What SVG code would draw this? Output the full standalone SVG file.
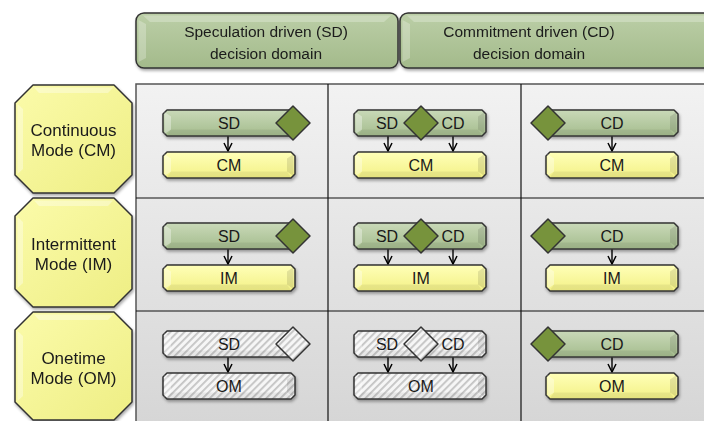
<svg xmlns="http://www.w3.org/2000/svg" xmlns:xlink="http://www.w3.org/1999/xlink" width="704" height="421" viewBox="0 0 704 421">
<style>
text{font-family:"Liberation Sans",Arial,sans-serif;fill:#1a1a1a;text-anchor:middle}
.hdr{font-size:15.5px}
.oct{font-size:17px}
.lbl{font-size:16px}
.edge{stroke:#333;stroke-width:1.5;stroke-linejoin:round}
.grid{stroke:#111;stroke-width:1.2;fill:none}
.conn line{stroke:#000;stroke-width:1.4;marker-end:url(#arr)}
</style>
<defs>
<linearGradient id="gGreen" x1="0" y1="0" x2="0" y2="1"><stop offset="0" stop-color="#c9d9b8"/><stop offset="1" stop-color="#a4bc8d"/></linearGradient>
<linearGradient id="gYellow" x1="0" y1="0" x2="0" y2="1"><stop offset="0" stop-color="#ffffb8"/><stop offset="1" stop-color="#f3f186"/></linearGradient>
<linearGradient id="gOct" x1="0" y1="0" x2="1" y2="1"><stop offset="0" stop-color="#fbfbaa"/><stop offset="1" stop-color="#eeee84"/></linearGradient>
<linearGradient id="gHdr" x1="0" y1="0" x2="0" y2="1"><stop offset="0" stop-color="#bccfa7"/><stop offset="1" stop-color="#a3ba8b"/></linearGradient>
<linearGradient id="gTable" x1="0" y1="0" x2="0" y2="1"><stop offset="0" stop-color="#f2f2f2"/><stop offset="1" stop-color="#d5d5d5"/></linearGradient>
<pattern id="hatch" width="5" height="5" patternUnits="userSpaceOnUse" patternTransform="rotate(45)">
<rect width="5" height="5" fill="#f6f6f6"/><rect width="1.8" height="5" fill="#c4c4c4"/>
</pattern>
<filter id="sh" x="-10%" y="-20%" width="120%" height="150%">
<feDropShadow dx="1" dy="2" stdDeviation="1.5" flood-color="#000" flood-opacity="0.35"/>
</filter>
<marker id="arr" viewBox="0 0 10 10" refX="9" refY="5" markerWidth="10" markerHeight="10" markerUnits="userSpaceOnUse" orient="auto">
<path d="M1,1 L9,5 L1,9" fill="none" stroke="#000" stroke-width="1.5"/>
</marker>
<g id="bar">
<path class="edge" d="M4,0 H128 L132,4 V22 L128,26 H4 L0,22 V4 Z"/>
<path d="M1.5,2 L8,6.5 V19.5 L1.5,24 Z" fill="#fff" fill-opacity="0.35"/>
<path d="M130.5,2 L124,6.5 V19.5 L130.5,24 Z" fill="#000" fill-opacity="0.1"/>
<path d="M8,19.5 H124 L128,25 H4 Z" fill="#000" fill-opacity="0.06"/>
</g>
<path id="dia" class="edge" d="M0,-17 L17,0 L0,17 L-17,0 Z"/>
</defs>

<!-- table background -->
<rect x="136" y="84" width="580" height="350" fill="url(#gTable)" stroke="#555" stroke-width="1.5"/>
<g class="grid">
<line x1="328" y1="84" x2="328" y2="421"/>
<line x1="521" y1="84" x2="521" y2="421"/>
<line x1="136" y1="198" x2="704" y2="198"/>
<line x1="136" y1="311" x2="704" y2="311"/>
</g>

<!-- headers -->
<g id="hdr-sd" filter="url(#sh)">
<rect class="edge" x="136" y="13" width="262" height="55" rx="8" fill="url(#gHdr)"/>
<path d="M143,15.5 H391 L384,22 H150 Z" fill="#fff" fill-opacity="0.25"/>
<path d="M138.5,20 L146,24 V58 L138.5,62 Z" fill="#fff" fill-opacity="0.25"/>
<text class="hdr" x="266" y="37">Speculation driven (SD)</text>
<text class="hdr" x="266" y="59">decision domain</text>
</g>
<g id="hdr-cd" filter="url(#sh)">
<rect class="edge" x="400" y="13" width="330" height="55" rx="8" fill="url(#gHdr)"/>
<path d="M407,15.5 H720 L713,22 H414 Z" fill="#fff" fill-opacity="0.25"/>
<path d="M402.5,20 L410,24 V58 L402.5,62 Z" fill="#fff" fill-opacity="0.25"/>
<text class="hdr" x="529" y="37">Commitment driven (CD)</text>
<text class="hdr" x="529" y="59">decision domain</text>
</g>

<!-- row headers -->
<g id="mode-cm" filter="url(#sh)">
<path class="edge" fill="url(#gOct)" d="M33,85 H114 L132,103 V175 L114,193 H33 L15,175 V103 Z"/>
<path d="M34,87.5 H113 L108,93 H39 Z M17.5,104 L23,109 V169 L17.5,174 Z" fill="#fff" fill-opacity="0.35"/>
<text class="oct" x="73.5" y="136">Continuous</text>
<text class="oct" x="73.5" y="156">Mode (CM)</text>
</g>
<g id="mode-im" filter="url(#sh)">
<path class="edge" fill="url(#gOct)" d="M33,198 H114 L132,216 V289 L114,307 H33 L15,289 V216 Z"/>
<path d="M34,200.5 H113 L108,206 H39 Z M17.5,217 L23,222 V283 L17.5,288 Z" fill="#fff" fill-opacity="0.35"/>
<text class="oct" x="73.5" y="250">Intermittent</text>
<text class="oct" x="73.5" y="270">Mode (IM)</text>
</g>
<g id="mode-om" filter="url(#sh)">
<path class="edge" fill="url(#gOct)" d="M33,312 H114 L132,330 V402 L114,420 H33 L15,402 V330 Z"/>
<path d="M34,314.5 H113 L108,320 H39 Z M17.5,331 L23,336 V396 L17.5,401 Z" fill="#fff" fill-opacity="0.35"/>
<text class="oct" x="73.5" y="364">Onetime</text>
<text class="oct" x="73.5" y="384">Mode (OM)</text>
</g>

<!-- connectors -->
<g id="connectors" class="conn">
<line x1="228" y1="136" x2="228" y2="151"/>
<line x1="388" y1="136" x2="388" y2="151"/>
<line x1="453" y1="136" x2="453" y2="151"/>
<line x1="612" y1="136" x2="612" y2="151"/>
<line x1="228" y1="249" x2="228" y2="264"/>
<line x1="388" y1="249" x2="388" y2="264"/>
<line x1="453" y1="249" x2="453" y2="264"/>
<line x1="612" y1="249" x2="612" y2="264"/>
<line x1="228" y1="357" x2="228" y2="372"/>
<line x1="388" y1="357" x2="388" y2="372"/>
<line x1="453" y1="357" x2="453" y2="372"/>
<line x1="612" y1="357" x2="612" y2="372"/>
</g>

<!-- row 1 -->
<g id="r1c1">
<use href="#bar" x="163" y="110" fill="url(#gGreen)" filter="url(#sh)"/>
<use href="#bar" x="163" y="152" fill="url(#gYellow)" filter="url(#sh)"/>
<use href="#dia" x="293" y="123" fill="#77933c"/>
<text class="lbl" x="229" y="129">SD</text>
<text class="lbl" x="229" y="171">CM</text>
</g>
<g id="r1c2">
<use href="#bar" x="354" y="110" fill="url(#gGreen)" filter="url(#sh)"/>
<use href="#bar" x="354" y="152" fill="url(#gYellow)" filter="url(#sh)"/>
<use href="#dia" x="421" y="123" fill="#77933c"/>
<text class="lbl" x="387" y="129">SD</text>
<text class="lbl" x="453" y="129">CD</text>
<text class="lbl" x="421" y="171">CM</text>
</g>
<g id="r1c3">
<use href="#bar" x="546" y="110" fill="url(#gGreen)" filter="url(#sh)"/>
<use href="#bar" x="546" y="152" fill="url(#gYellow)" filter="url(#sh)"/>
<use href="#dia" x="548" y="123" fill="#77933c"/>
<text class="lbl" x="612" y="129">CD</text>
<text class="lbl" x="612" y="171">CM</text>
</g>

<!-- row 2 -->
<g id="r2c1">
<use href="#bar" x="163" y="223" fill="url(#gGreen)" filter="url(#sh)"/>
<use href="#bar" x="163" y="265" fill="url(#gYellow)" filter="url(#sh)"/>
<use href="#dia" x="293" y="236" fill="#77933c"/>
<text class="lbl" x="229" y="242">SD</text>
<text class="lbl" x="229" y="284">IM</text>
</g>
<g id="r2c2">
<use href="#bar" x="354" y="223" fill="url(#gGreen)" filter="url(#sh)"/>
<use href="#bar" x="354" y="265" fill="url(#gYellow)" filter="url(#sh)"/>
<use href="#dia" x="421" y="236" fill="#77933c"/>
<text class="lbl" x="387" y="242">SD</text>
<text class="lbl" x="453" y="242">CD</text>
<text class="lbl" x="421" y="284">IM</text>
</g>
<g id="r2c3">
<use href="#bar" x="546" y="223" fill="url(#gGreen)" filter="url(#sh)"/>
<use href="#bar" x="546" y="265" fill="url(#gYellow)" filter="url(#sh)"/>
<use href="#dia" x="548" y="236" fill="#77933c"/>
<text class="lbl" x="612" y="242">CD</text>
<text class="lbl" x="612" y="284">IM</text>
</g>

<!-- row 3 -->
<g id="r3c1">
<use href="#bar" x="163" y="331" fill="url(#hatch)" filter="url(#sh)"/>
<use href="#bar" x="163" y="373" fill="url(#hatch)" filter="url(#sh)"/>
<use href="#dia" x="293" y="344" fill="url(#hatch)"/>
<text class="lbl" x="229" y="350">SD</text>
<text class="lbl" x="229" y="392">OM</text>
</g>
<g id="r3c2">
<use href="#bar" x="354" y="331" fill="url(#hatch)" filter="url(#sh)"/>
<use href="#bar" x="354" y="373" fill="url(#hatch)" filter="url(#sh)"/>
<use href="#dia" x="421" y="344" fill="url(#hatch)"/>
<text class="lbl" x="387" y="350">SD</text>
<text class="lbl" x="453" y="350">CD</text>
<text class="lbl" x="421" y="392">OM</text>
</g>
<g id="r3c3">
<use href="#bar" x="546" y="331" fill="url(#gGreen)" filter="url(#sh)"/>
<use href="#bar" x="546" y="373" fill="url(#gYellow)" filter="url(#sh)"/>
<use href="#dia" x="548" y="344" fill="#77933c"/>
<text class="lbl" x="612" y="350">CD</text>
<text class="lbl" x="612" y="392">OM</text>
</g>
</svg>
